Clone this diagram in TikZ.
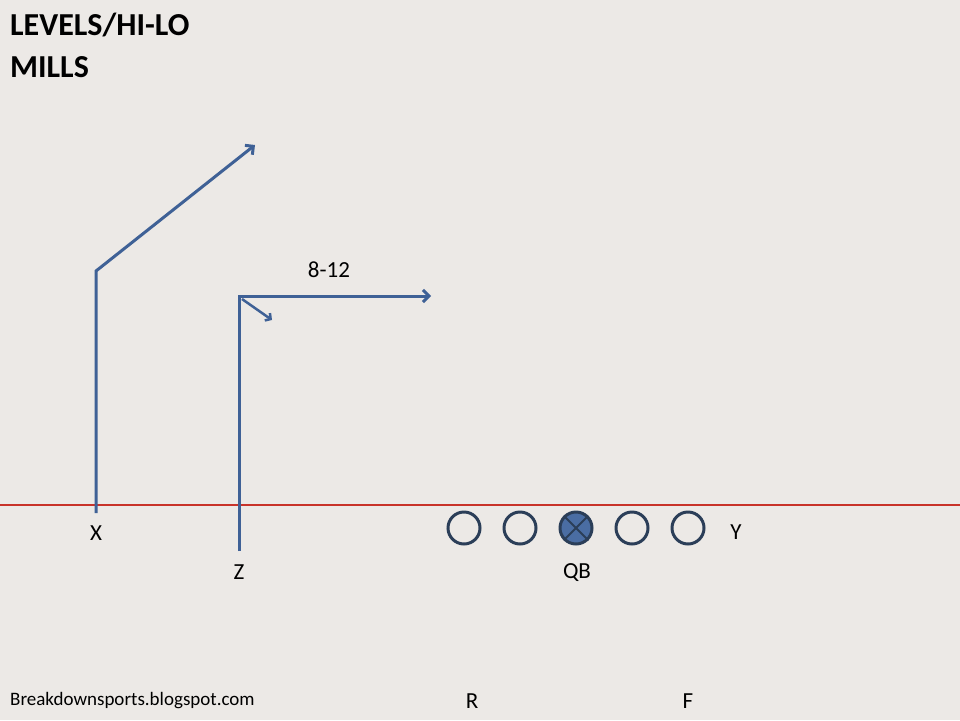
\documentclass[tikz,border=0pt]{standalone}
\usepackage{fontspec}
\setmainfont{Carlito}
\usetikzlibrary{arrows.meta}
\definecolor{bg}{HTML}{ECE9E6}
\definecolor{route}{HTML}{3F6196}
\definecolor{ring}{HTML}{2B3E58}
\definecolor{qbfill}{HTML}{4A6DA3}
\definecolor{los}{HTML}{C8332A}
\tikzset{
  routeline/.style={draw=route, line width=3pt},
  routearrow/.style={routeline, -{Straight Barb[length=6pt,width=12pt,line width=3pt]}},
  lineman/.style={circle, draw=ring, line width=3pt, minimum size=32pt, inner sep=0pt},
  lbl/.style={font=\fontsize{23}{27}\selectfont, inner sep=0pt},
  small/.style={font=\fontsize{19}{23}\selectfont, inner sep=0pt},
  title/.style={font=\fontsize{32}{38}\selectfont\bfseries, inner sep=0pt, anchor=base west}
}
\begin{document}
\begin{tikzpicture}[x=1pt,y=-1pt]
\fill[bg] (0,0) rectangle (960,720);
\useasboundingbox (0,0) rectangle (960,720);
% titles
\node[title] (t1) at (10,35) {LEVELS/HI-LO};
\node[title] (t2) at (10,77) {MILLS};
% line of scrimmage
\coordinate (losL) at (0,505);
\coordinate (losR) at (960,505);
\draw[los, line width=1.2pt] (losL) -- (losR);
% linemen
\node[lineman] (l1) at (464,528) {};
\node[lineman] (l2) at (520,528) {};
\node[lineman, fill=qbfill] (c) at (576,528) {};
\draw[ring, line width=2pt] (c.north west) -- (c.south east) (c.north east) -- (c.south west);
\node[lineman] (r1) at (632,528) {};
\node[lineman] (r2) at (688,528) {};
% labels
\node[lbl] (X) at (96,533) {X};
\node[lbl] (Y) at (736,532) {Y};
\node[lbl] (Z) at (239,572) {Z};
\node[lbl] (QB) at (577,573) {QB};
\node[lbl] (R) at (472,701) {R};
\node[lbl] (F) at (688,701) {F};
\node[small, anchor=west] (site) at (10,701) {Breakdownsports.blogspot.com};
\node[lbl] (dist) at (329,270) {8-12};
% X route
\coordinate (xs) at (96,513);
\coordinate (xb) at (96,271);
\coordinate (xe) at (255,145);
\draw[routearrow] (xs) -- (xb) -- (xe);
% Z route
\coordinate (zs) at (239,551);
\coordinate (zb) at (239,296);
\coordinate (ze) at (431,296);
\draw[routearrow] (zs) -- (zb) -- (ze);
\coordinate (zs2) at (242,299);
\coordinate (ze2) at (272,320);
\draw[routearrow, line width=2.5pt, -{Straight Barb[length=4pt,width=9pt,line width=2.5pt]}] (zs2) -- (ze2);
\end{tikzpicture}
\end{document}
